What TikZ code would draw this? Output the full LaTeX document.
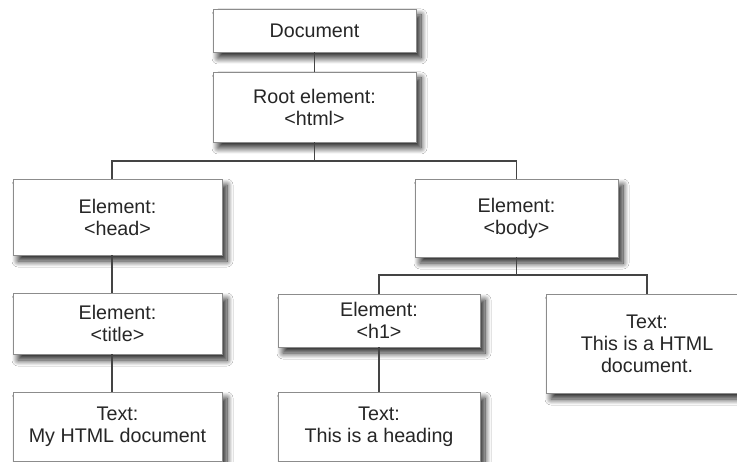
\documentclass[tikz,border=0pt]{standalone}
\usepackage{fontspec}
\setmainfont{Liberation Sans}
\usetikzlibrary{shadows.blur}
\definecolor{txt}{HTML}{262626}
\definecolor{edge}{HTML}{8C8C8C}
\definecolor{wire}{HTML}{444444}
\tikzset{
  box/.style={draw=edge, line width=0.9pt, fill=white, text=txt, align=center,
    inner sep=0pt, font=\fontsize{19.7}{22}\selectfont,
    blur shadow={shadow xshift=5pt, shadow yshift=-6pt, shadow blur radius=6pt, shadow blur steps=12, shadow opacity=85}},
  wire/.style={draw=wire, line width=1.4pt}
}
\begin{document}
\begin{tikzpicture}[x=1pt,y=-1pt]
\useasboundingbox (0,0) rectangle (737,462);
\fill[white] (0,0) rectangle (737,462);
\node[box, minimum width=203pt, minimum height=43pt] (doc) at (314.5,30.5) {Document};
\node[box, minimum width=203pt, minimum height=70pt] (root) at (314.5,107) {Root element:\\\textless html\textgreater};
\node[box, minimum width=209pt, minimum height=76pt] (head) at (117.5,217) {Element:\\\textless head\textgreater};
\node[box, minimum width=209pt, minimum height=61pt] (title) at (117.5,323.5) {Element:\\\textless title\textgreater};
\node[box, minimum width=209pt, minimum height=69pt] (mytext) at (117.5,426.5) {Text:\\My HTML document};
\node[box, minimum width=203pt, minimum height=78pt] (body) at (516.5,218) {Element:\\\textless body\textgreater};
\node[box, minimum width=202pt, minimum height=53pt] (h1) at (379,320.5) {Element:\\\textless h1\textgreater};
\node[box, minimum width=202pt, minimum height=69pt] (heading) at (379,426.5) {Text:\\This is a heading};
\node[box, minimum width=202pt, minimum height=99pt] (htmltext) at (647,343.5) {Text:\\This is a HTML\\document.};
\coordinate (busA) at (0,161);
\coordinate (busB) at (0,275);
\draw[wire] (doc.south) -- (root.north);
\draw[wire] (root.south) -- (root.south |- busA) -| ([xshift=-5.5pt]head.north);
\draw[wire] (root.south |- busA) -| (body.north);
\draw[wire] ([xshift=-5.5pt]head.south) -- ([xshift=-5.5pt]title.north);
\draw[wire] ([xshift=-5.5pt]title.south) -- ([xshift=-5.5pt]mytext.north);
\draw[wire] (body.south) -- (body.south |- busB) -| (h1.north);
\draw[wire] (body.south |- busB) -| (htmltext.north);
\draw[wire] (h1.south) -- (heading.north);
\end{tikzpicture}
\end{document}
